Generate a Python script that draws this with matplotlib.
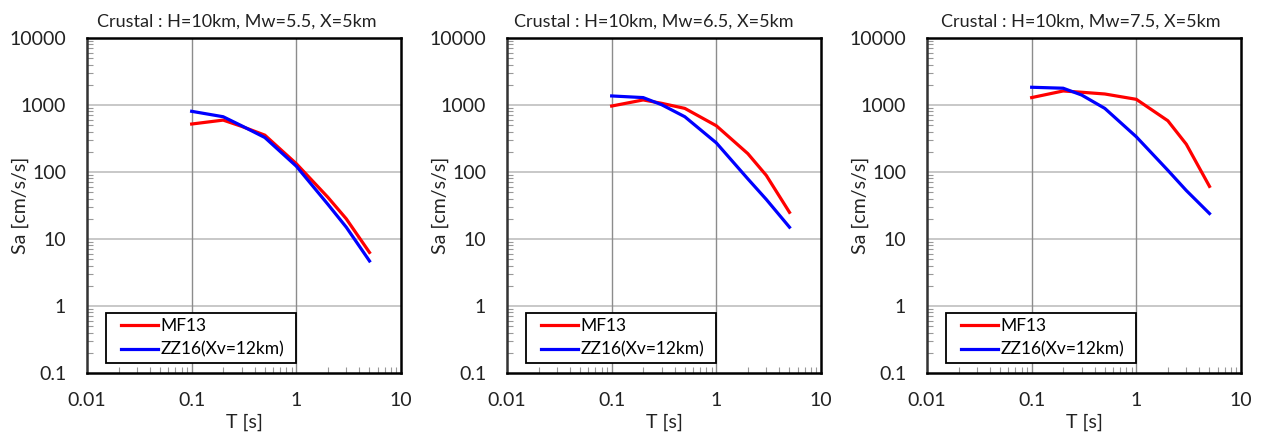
import numpy as np
import matplotlib
matplotlib.use("Agg")
import matplotlib.pyplot as plt
from matplotlib.lines import Line2D
from matplotlib.legend_handler import HandlerLine2D
from matplotlib.ticker import LogLocator, NullFormatter, FixedLocator, FixedFormatter

plt.rcParams['font.family'] = ['Lato', 'DejaVu Sans']

# spectral periods (s)
periods = [0.1, 0.2, 0.3, 0.5, 1.0, 2.0, 3.0, 5.0]

titles = [
    "Crustal : H=10km, Mw=5.5, X=5km",
    "Crustal : H=10km, Mw=6.5, X=5km",
    "Crustal : H=10km, Mw=7.5, X=5km",
]

# Sa [cm/s/s] for each magnitude
mf13_mw55 = [520, 595, 480, 355, 133, 42, 20, 6.3]
zz16_mw55 = [805, 668, 490, 327, 122, 33, 15, 4.7]

mf13_mw65 = [965, 1190, 1060, 890, 490, 188, 89, 25]
zz16_mw65 = [1365, 1290, 1010, 668, 272, 79, 39, 15]

mf13_mw75 = [1290, 1620, 1550, 1460, 1215, 582, 260, 61]
zz16_mw75 = [1840, 1780, 1410, 890, 335, 106, 53, 24]

mf13 = [mf13_mw55, mf13_mw65, mf13_mw75]
zz16 = [zz16_mw55, zz16_mw65, zz16_mw75]

x_ticks = [0.01, 0.1, 1, 10]
x_labels = ["0.01", "0.1", "1", "10"]
y_ticks = [0.1, 1, 10, 100, 1000, 10000]
y_labels = ["0.1", "1", "10", "100", "1000", "10000"]

TXT = "#222222"

fig = plt.figure(figsize=(12.62, 4.33), dpi=100)
lefts = [87, 507, 927]
title_x = [0.476, 0.468, 0.49]

for i in range(3):
    ax = fig.add_axes([lefts[i] / 1262, 1 - 373 / 433, 314 / 1262, 335 / 433])
    ax.set_xscale("log")
    ax.set_yscale("log")
    ax.set_xlim(0.01, 10)
    ax.set_ylim(0.1, 10000)

    ax.xaxis.set_major_locator(FixedLocator(x_ticks))
    ax.xaxis.set_major_formatter(FixedFormatter(x_labels))
    ax.yaxis.set_major_locator(FixedLocator(y_ticks))
    ax.yaxis.set_major_formatter(FixedFormatter(y_labels))
    ax.xaxis.set_minor_locator(LogLocator(base=10, subs=np.arange(2, 10)))
    ax.yaxis.set_minor_locator(LogLocator(base=10, subs=np.arange(2, 10)))
    ax.xaxis.set_minor_formatter(NullFormatter())
    ax.yaxis.set_minor_formatter(NullFormatter())

    ax.tick_params(which="major", length=0, labelsize=14, colors=TXT)
    ax.tick_params(axis="y", which="major", pad=15)
    ax.tick_params(axis="x", which="major", pad=14)
    ax.tick_params(which="minor", direction="in", length=4, width=0.8, color="#999999",
                   top=False, right=False)

    # horizontal grid light, vertical grid darker
    for y in y_ticks[1:-1]:
        ax.axhline(y, color="#c8c8c8", lw=1.4, zorder=0)
    for x in x_ticks[1:-1]:
        ax.axvline(x, color="#8c8c8c", lw=1.0, zorder=0)

    for s in ax.spines.values():
        s.set_color("black")
        s.set_linewidth(1.8)
    ax.spines["left"].set_color("#333333")

    ax.plot(periods, mf13[i], color="#ff0000", lw=2.3, label="MF13")
    ax.plot(periods, zz16[i], color="#0000ff", lw=2.3, label="ZZ16(Xv=12km)")

    ax.text(title_x[i], 1.048, titles[i], transform=ax.transAxes, fontsize=13,
            ha="center", va="center", color=TXT)
    ax.set_xlabel("T [s]", fontsize=14, color=TXT)
    ax.set_ylabel("Sa [cm/s/s]", fontsize=14, color=TXT)
    ax.xaxis.set_label_coords(0.5, -0.122)
    ax.yaxis.set_label_coords(-0.185, 0.5)

    leg = ax.legend(loc="lower left", bbox_to_anchor=(0.06, 0.03, 0.605, 0.152),
                    mode="expand", fontsize=12.5, frameon=True, fancybox=False,
                    handler_map={Line2D: HandlerLine2D(xpad=0.55)},
                    handlelength=2.7, handletextpad=0.15, borderpad=0.3,
                    labelspacing=0.45, borderaxespad=0)
    frame = leg.get_frame()
    frame.set_edgecolor("black")
    frame.set_linewidth(1.3)
    frame.set_alpha(1)

fig.savefig("out.png", dpi=100)
